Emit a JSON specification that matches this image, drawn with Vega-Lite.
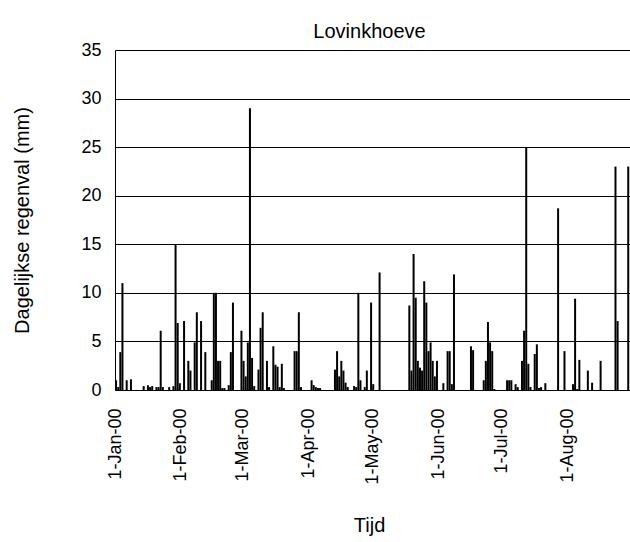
{
  "$schema": "https://vega.github.io/schema/vega-lite/v6.json",
  "width": 515,
  "height": 340,
  "autosize": {"type": "none"},
  "padding": {"left": 115, "top": 50, "right": 0, "bottom": 152},
  "background": "white",
  "config": {"font": "Liberation Sans", "view": {"stroke": null}},
  "title": {"text": "Lovinkhoeve", "fontSize": 20, "fontWeight": "normal", "color": "#000", "offset": -1, "dx": -3},
  "data": {"values": [
    {"date": "2000-01-01", "rain": 1.0},
    {"date": "2000-01-02", "rain": 0.3},
    {"date": "2000-01-03", "rain": 3.9},
    {"date": "2000-01-04", "rain": 11.0},
    {"date": "2000-01-06", "rain": 1.0},
    {"date": "2000-01-08", "rain": 1.1},
    {"date": "2000-01-14", "rain": 0.4},
    {"date": "2000-01-16", "rain": 0.5},
    {"date": "2000-01-17", "rain": 0.3},
    {"date": "2000-01-18", "rain": 0.4},
    {"date": "2000-01-20", "rain": 0.3},
    {"date": "2000-01-21", "rain": 0.3},
    {"date": "2000-01-22", "rain": 6.1},
    {"date": "2000-01-23", "rain": 0.3},
    {"date": "2000-01-26", "rain": 0.3},
    {"date": "2000-01-28", "rain": 0.4},
    {"date": "2000-01-29", "rain": 15.0},
    {"date": "2000-01-30", "rain": 6.9},
    {"date": "2000-01-31", "rain": 0.7},
    {"date": "2000-02-02", "rain": 7.1},
    {"date": "2000-02-04", "rain": 3.0},
    {"date": "2000-02-05", "rain": 2.0},
    {"date": "2000-02-07", "rain": 4.9},
    {"date": "2000-02-08", "rain": 8.0},
    {"date": "2000-02-10", "rain": 7.1},
    {"date": "2000-02-12", "rain": 3.9},
    {"date": "2000-02-15", "rain": 1.0},
    {"date": "2000-02-16", "rain": 10.0},
    {"date": "2000-02-17", "rain": 10.0},
    {"date": "2000-02-18", "rain": 3.0},
    {"date": "2000-02-19", "rain": 3.0},
    {"date": "2000-02-20", "rain": 0.2},
    {"date": "2000-02-21", "rain": 0.2},
    {"date": "2000-02-23", "rain": 0.5},
    {"date": "2000-02-24", "rain": 3.9},
    {"date": "2000-02-25", "rain": 9.0},
    {"date": "2000-02-29", "rain": 6.1},
    {"date": "2000-03-01", "rain": 3.0},
    {"date": "2000-03-02", "rain": 1.4},
    {"date": "2000-03-03", "rain": 4.9},
    {"date": "2000-03-04", "rain": 29.0},
    {"date": "2000-03-05", "rain": 3.3},
    {"date": "2000-03-06", "rain": 0.4},
    {"date": "2000-03-08", "rain": 2.1},
    {"date": "2000-03-09", "rain": 6.4},
    {"date": "2000-03-10", "rain": 8.0},
    {"date": "2000-03-12", "rain": 3.0},
    {"date": "2000-03-13", "rain": 0.3},
    {"date": "2000-03-15", "rain": 4.5},
    {"date": "2000-03-16", "rain": 2.6},
    {"date": "2000-03-17", "rain": 2.4},
    {"date": "2000-03-18", "rain": 0.3},
    {"date": "2000-03-19", "rain": 2.7},
    {"date": "2000-03-20", "rain": 0.2},
    {"date": "2000-03-25", "rain": 4.0},
    {"date": "2000-03-26", "rain": 4.0},
    {"date": "2000-03-27", "rain": 8.0},
    {"date": "2000-03-28", "rain": 0.3},
    {"date": "2000-04-02", "rain": 1.0},
    {"date": "2000-04-03", "rain": 0.5},
    {"date": "2000-04-04", "rain": 0.3},
    {"date": "2000-04-05", "rain": 0.2},
    {"date": "2000-04-06", "rain": 0.2},
    {"date": "2000-04-13", "rain": 2.1},
    {"date": "2000-04-14", "rain": 4.0},
    {"date": "2000-04-15", "rain": 1.4},
    {"date": "2000-04-16", "rain": 3.0},
    {"date": "2000-04-17", "rain": 2.0},
    {"date": "2000-04-18", "rain": 0.75},
    {"date": "2000-04-19", "rain": 0.3},
    {"date": "2000-04-22", "rain": 0.4},
    {"date": "2000-04-23", "rain": 0.3},
    {"date": "2000-04-24", "rain": 10.0},
    {"date": "2000-04-25", "rain": 1.0},
    {"date": "2000-04-27", "rain": 0.3},
    {"date": "2000-04-28", "rain": 2.0},
    {"date": "2000-04-30", "rain": 9.0},
    {"date": "2000-05-01", "rain": 0.6},
    {"date": "2000-05-04", "rain": 12.1},
    {"date": "2000-05-18", "rain": 8.7},
    {"date": "2000-05-19", "rain": 2.0},
    {"date": "2000-05-20", "rain": 14.0},
    {"date": "2000-05-21", "rain": 9.5},
    {"date": "2000-05-22", "rain": 3.0},
    {"date": "2000-05-23", "rain": 2.3},
    {"date": "2000-05-24", "rain": 2.0},
    {"date": "2000-05-25", "rain": 11.2},
    {"date": "2000-05-26", "rain": 9.0},
    {"date": "2000-05-27", "rain": 4.0},
    {"date": "2000-05-28", "rain": 4.9},
    {"date": "2000-05-29", "rain": 3.0},
    {"date": "2000-05-30", "rain": 1.4},
    {"date": "2000-05-31", "rain": 3.0},
    {"date": "2000-06-03", "rain": 0.7},
    {"date": "2000-06-05", "rain": 4.0},
    {"date": "2000-06-06", "rain": 4.0},
    {"date": "2000-06-07", "rain": 0.6},
    {"date": "2000-06-08", "rain": 11.9},
    {"date": "2000-06-16", "rain": 4.5},
    {"date": "2000-06-17", "rain": 4.1},
    {"date": "2000-06-22", "rain": 1.0},
    {"date": "2000-06-23", "rain": 3.0},
    {"date": "2000-06-24", "rain": 7.0},
    {"date": "2000-06-25", "rain": 4.9},
    {"date": "2000-06-26", "rain": 4.0},
    {"date": "2000-06-27", "rain": 0.1},
    {"date": "2000-07-03", "rain": 1.0},
    {"date": "2000-07-04", "rain": 1.0},
    {"date": "2000-07-05", "rain": 1.0},
    {"date": "2000-07-07", "rain": 0.6},
    {"date": "2000-07-08", "rain": 0.3},
    {"date": "2000-07-10", "rain": 3.0},
    {"date": "2000-07-11", "rain": 6.1},
    {"date": "2000-07-12", "rain": 25.0},
    {"date": "2000-07-13", "rain": 2.7},
    {"date": "2000-07-14", "rain": 0.3},
    {"date": "2000-07-16", "rain": 3.7},
    {"date": "2000-07-17", "rain": 4.7},
    {"date": "2000-07-18", "rain": 0.2},
    {"date": "2000-07-19", "rain": 0.3},
    {"date": "2000-07-21", "rain": 0.7},
    {"date": "2000-07-27", "rain": 18.7},
    {"date": "2000-07-30", "rain": 4.0},
    {"date": "2000-08-03", "rain": 0.6},
    {"date": "2000-08-04", "rain": 9.4},
    {"date": "2000-08-05", "rain": 0.1},
    {"date": "2000-08-06", "rain": 3.1},
    {"date": "2000-08-10", "rain": 2.0},
    {"date": "2000-08-12", "rain": 0.75},
    {"date": "2000-08-16", "rain": 3.0},
    {"date": "2000-08-23", "rain": 23.0},
    {"date": "2000-08-24", "rain": 7.1},
    {"date": "2000-08-29", "rain": 23.0}
  ]},
  "mark": {"type": "bar", "color": "#000", "width": 2},
  "encoding": {
    "x": {
      "field": "date",
      "type": "temporal",
      "timeUnit": "utcyearmonthdate",
      "bandPosition": 0.5,
      "scale": {"domain": [
        {"year": 2000, "month": 1, "date": 1, "utc": true},
        {"year": 2000, "month": 8, "date": 30, "hours": 8, "utc": true}
      ]},
      "axis": {
        "values": [
          {"year": 2000, "month": 1, "date": 1, "utc": true},
          {"year": 2000, "month": 2, "date": 1, "utc": true},
          {"year": 2000, "month": 3, "date": 1, "utc": true},
          {"year": 2000, "month": 4, "date": 1, "utc": true},
          {"year": 2000, "month": 5, "date": 1, "utc": true},
          {"year": 2000, "month": 6, "date": 1, "utc": true},
          {"year": 2000, "month": 7, "date": 1, "utc": true},
          {"year": 2000, "month": 8, "date": 1, "utc": true}
        ],
        "format": "%-d-%b-%y",
        "labelAngle": 270,
        "labelAlign": "right",
        "labelBaseline": "middle",
        "labelPadding": 18,
        "labelFontSize": 18,
        "labelColor": "#000",
        "labelOverlap": false,
        "ticks": false,
        "grid": false,
        "domainColor": "#000",
        "title": "Tijd",
        "titleFontSize": 20,
        "titleFontWeight": "normal",
        "titleColor": "#000",
        "titleX": 254,
        "titleY": 135,
        "titleBaseline": "middle"
      }
    },
    "y": {
      "field": "rain",
      "type": "quantitative",
      "scale": {"domain": [0, 35], "nice": false},
      "axis": {
        "values": [0, 5, 10, 15, 20, 25, 30, 35],
        "grid": true,
        "gridColor": "#000",
        "gridOpacity": 1,
        "domainColor": "#000",
        "ticks": false,
        "labelPadding": 14,
        "labelFontSize": 18,
        "labelColor": "#000",
        "title": "Dagelijkse regenval (mm)",
        "titleFontSize": 20,
        "titleFontWeight": "normal",
        "titleColor": "#000",
        "titleX": -93,
        "titleY": 170,
        "titleAngle": 270,
        "titleAlign": "center",
        "titleBaseline": "middle"
      }
    }
  }
}
